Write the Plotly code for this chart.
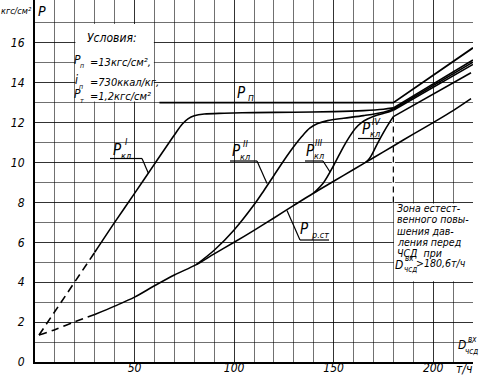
import plotly.graph_objects as go

# ---------------- data ----------------
# P_р.ст  (static pressure)
RST_DASH_X = [2, 10, 20, 30]
RST_DASH_Y = [1.35, 1.62, 2.02, 2.38]
RST_X = [30, 40, 50, 60, 70, 81, 90, 100, 110, 120, 130, 140, 150, 160, 170, 180, 190, 200, 210, 219]
RST_Y = [2.38, 2.8, 3.25, 3.82, 4.36, 4.88, 5.42, 6.0, 6.6, 7.22, 7.85, 8.47, 9.06, 9.65, 10.24, 10.83, 11.42, 12.0, 12.6, 13.2]

# P_кл I
KL1_DASH_X = [2, 10, 20, 30]
KL1_DASH_Y = [1.35, 2.55, 4.05, 5.5]
KL1_X = [30, 40, 50, 60, 70, 74, 77, 80, 85, 95, 110, 130, 150, 165, 175, 180]
KL1_Y = [5.5, 7.0, 8.45, 9.92, 11.38, 11.93, 12.2, 12.34, 12.43, 12.47, 12.5, 12.52, 12.55, 12.6, 12.67, 12.74]
KL1_AFTER_X = [180, 220]
KL1_AFTER_Y = [12.74, 15.14]

# P_кл II
KL2_X = [81, 90, 100, 110, 115, 120, 125, 130, 134, 138, 142, 147, 155, 165, 175, 180]
KL2_Y = [4.88, 5.6, 6.62, 7.88, 8.6, 9.35, 10.1, 10.8, 11.3, 11.72, 11.95, 12.1, 12.22, 12.35, 12.52, 12.68]
KL2_AFTER_X = [180, 220]
KL2_AFTER_Y = [12.68, 15.03]

# P_кл III
KL3_X = [140, 145, 150, 155, 158, 161, 164, 167, 172, 178, 180]
KL3_Y = [8.47, 9.0, 9.85, 10.8, 11.3, 11.72, 12.0, 12.18, 12.38, 12.55, 12.62]
KL3_AFTER_X = [180, 220]
KL3_AFTER_Y = [12.62, 14.92]

# P_кл IV
KL4_X = [166, 168, 170, 172, 175, 178, 180]
KL4_Y = [10.0, 10.2, 10.55, 10.95, 11.5, 12.0, 12.3]
KL4_AFTER_X = [180, 219]
KL4_AFTER_Y = [12.3, 14.5]

# P_п
PN_X = [62.5, 180, 220]
PN_Y = [13.0, 13.0, 15.75]

# zone boundary D = 180.6 t/h
ZONE_X = 180
ZONE_Y = [8.0, 12.3]

X_TICKS = [50, 100, 150, 200]
Y_TICKS = [0, 2, 4, 6, 8, 10, 12, 14, 16]
X_GRID = list(range(10, 221, 10))
Y_GRID = list(range(1, 18))

# ---------------- geometry helpers (pixel -> data / paper) ----------------
W, H = 480, 380
ML, MR, MT, MB = 35, 7, 0, 18
PW, PH = W - ML - MR, H - MT - MB
XR = [0, 220]
SX = PW / (XR[1] - XR[0])
SY = 19.95
YR = [0, PH / SY]


def dx(p):
    return (p - ML) / SX


def dy(p):
    return (H - MB - p) / SY


def px_(p):
    return (p - ML) / PW


def py_(p):
    return (H - MB - p) / PH


FONT = "DejaVu Sans Condensed, Liberation Sans Narrow, DejaVu Sans, sans-serif"
LW = 1.6

fig = go.Figure()


def add_line(x, y, dash="solid", shape="spline", width=LW):
    fig.add_trace(go.Scatter(
        x=x, y=y, mode="lines", hoverinfo="skip", showlegend=False,
        line=dict(color="black", width=width, dash=dash, shape=shape, smoothing=0.9 if shape == "spline" else None),
    ))


DASH = "8px,5px"
add_line(RST_DASH_X, RST_DASH_Y, dash=DASH)
add_line(RST_X, RST_Y)
add_line(KL1_DASH_X, KL1_DASH_Y, dash=DASH, shape="linear")
add_line(KL1_X, KL1_Y)
add_line(KL1_AFTER_X, KL1_AFTER_Y, shape="linear")
add_line(KL2_X, KL2_Y)
add_line(KL2_AFTER_X, KL2_AFTER_Y, shape="linear")
add_line(KL3_X, KL3_Y)
add_line(KL3_AFTER_X, KL3_AFTER_Y, shape="linear")
add_line(KL4_X, KL4_Y)
add_line(KL4_AFTER_X, KL4_AFTER_Y, shape="linear")
add_line(PN_X, PN_Y, shape="linear", width=1.8)

shapes = []
# white boxes behind text
shapes.append(dict(type="rect", xref="x", yref="y", x0=20.3, x1=59.7, y0=13.06, y1=16.94,
                   fillcolor="white", line=dict(width=0), layer="between"))
shapes.append(dict(type="rect", xref="x", yref="y", x0=180.3, x1=222, y0=4.05, y1=7.95,
                   fillcolor="white", line=dict(width=0), layer="between"))
# dashed zone boundary
shapes.append(dict(type="line", xref="x", yref="y", x0=ZONE_X, x1=ZONE_X, y0=ZONE_Y[0], y1=ZONE_Y[1],
                   line=dict(color="white", width=3), layer="between"))
shapes.append(dict(type="line", xref="x", yref="y", x0=ZONE_X, x1=ZONE_X, y0=ZONE_Y[0], y1=ZONE_Y[1],
                   line=dict(color="black", width=1.2, dash="6px,4px"), layer="between"))


def seg(x0, y0, x1, y1, w=1.2):
    shapes.append(dict(type="line", xref="x", yref="y", x0=dx(x0), y0=dy(y0), x1=dx(x1), y1=dy(y1),
                       line=dict(color="black", width=w), layer="above"))


# label underlines and leaders (pixel positions)
seg(110, 158.5, 142, 158.5); seg(142, 158.5, 148.5, 173.5)          # P_кл I
seg(230, 161, 257, 161); seg(257, 161, 267, 183.5)                  # P_кл II
seg(305, 161, 323, 161); seg(323, 161, 330, 172)                    # P_кл III
seg(358, 138.5, 380, 138.5)                                         # P_кл IV
seg(300, 240, 329, 240); seg(300, 240, 287, 210.5)                  # P_р.ст

annotations = []


def ann(text, xp, yp, size=12, xanchor="center", yanchor="middle"):
    annotations.append(dict(
        x=px_(xp), y=py_(yp), xref="paper", yref="paper", text=text, showarrow=False,
        xanchor=xanchor, yanchor=yanchor,
        font=dict(family=FONT, size=size, color="black", style="italic"),
    ))


# axis captions
ann("кгс/см²", 16, 11, size=9)
ann("P", 42, 11, size=14)
ann("т/ч", 464, 369, size=12)
ann("D", 462, 345, size=12)
ann("вх", 472, 339, size=8)
ann("чсд", 471, 351, size=8)

# curve labels
ann("P", 117, 150, size=15); ann("I", 126, 142, size=9); ann("кл", 126, 156, size=9)
ann("P", 236, 151, size=15); ann("II", 245, 144, size=9); ann("кл", 245, 156.5, size=9)
ann("P", 310, 151.5, size=15); ann("III", 319, 143, size=9); ann("кл", 319, 156, size=9)
ann("P", 366, 129, size=15); ann("IV", 376, 122, size=9); ann("кл", 375, 133.5, size=9)
ann("P", 304, 228.5, size=15); ann("р.ст", 320, 234.5, size=9)
ann("P", 241, 93, size=15); ann("п", 251, 97.5, size=10)

# conditions box
ann("Условия:", 85, 38, size=12, xanchor="left")
ann("P", 77.5, 60, size=12); ann("п", 82, 66.5, size=7)
ann("=13кгс/см²,", 88, 62, size=11, xanchor="left")
ann("i", 76.5, 80.5, size=12); ann("п", 81, 86.5, size=7)
ann("=730ккал/кг,", 88, 82.5, size=11, xanchor="left")
ann("P", 77.5, 94.5, size=12); ann("т", 82, 100.5, size=7)
ann("=1,2кгс/см²", 88, 96.5, size=11, xanchor="left")

# zone box
for txt, yp in [("Зона естест-", 207.5), ("венного повы-", 219), ("шения дав-", 230.5),
                ("ления перед", 242), ("ЧСД  при", 253)]:
    ann(txt, 395, yp, size=10.5, xanchor="left")
ann("D", 399, 265, size=12); ann("вх", 409, 258.5, size=8); ann("чсд", 410, 269, size=8)
ann(">180,6т/ч", 414, 263, size=10.5, xanchor="left")

GRID = "rgba(0,0,0,0.7)"
fig.update_layout(
    width=W, height=H,
    margin=dict(l=ML, r=MR, t=MT, b=MB, pad=0, autoexpand=False),
    paper_bgcolor="white", plot_bgcolor="white",
    showlegend=False, hovermode=False,
    shapes=shapes, annotations=annotations,
    xaxis=dict(
        range=XR, showline=True, linecolor="black", linewidth=2, mirror=False,
        tickmode="array", tickvals=X_TICKS, ticks="", showgrid=True, gridcolor=GRID, gridwidth=0.8,
        tickfont=dict(family=FONT, size=12, color="black", style="italic"),
        minor=dict(tickvals=X_GRID, showgrid=True, gridcolor=GRID, gridwidth=0.8, ticks=""),
        zeroline=False, ticklabelstandoff=-6, fixedrange=True, automargin=False,
    ),
    yaxis=dict(
        range=YR, showline=True, linecolor="black", linewidth=2, mirror=False,
        tickmode="array", tickvals=Y_TICKS, ticks="", showgrid=True, gridcolor=GRID, gridwidth=0.8,
        tickfont=dict(family=FONT, size=12, color="black", style="italic"),
        minor=dict(tickvals=Y_GRID, showgrid=True, gridcolor=GRID, gridwidth=0.8, ticks=""),
        zeroline=False, ticklabelstandoff=6, fixedrange=True, automargin=False,
    ),
)

fig.write_html(
    "out.html",
    config={"displayModeBar": False, "staticPlot": True},
    post_script="document.body.style.margin='0';document.body.style.padding='0';",
)
